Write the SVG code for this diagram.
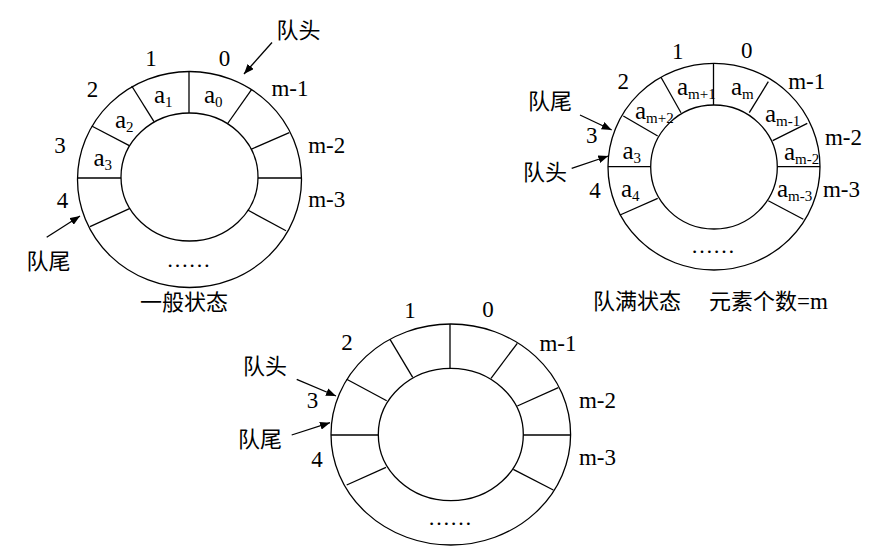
<svg xmlns="http://www.w3.org/2000/svg" width="885" height="555" viewBox="0 0 885 555">
<defs>
<marker id="ah" markerWidth="10" markerHeight="8" refX="10" refY="4" orient="auto" markerUnits="userSpaceOnUse">
<path d="M0,0 L10,4 L0,8 Z" fill="#000"/>
</marker>
<style>
.ring{fill:none;stroke:#000;stroke-width:1.3}
.sep{stroke:#000;stroke-width:1.3}
.num{font-family:"Liberation Serif",serif;font-size:23px;fill:#000;text-anchor:middle}
.a{font-family:"Liberation Serif",serif;font-size:25px;fill:#000}
.sub{font-size:15px}
.cjk{font-family:"Liberation Serif","Noto Sans CJK SC",sans-serif;font-size:22px;fill:#000}
.ser{font-family:"Liberation Serif",serif;font-size:23px}
.dots{font-family:"Liberation Serif",serif;font-size:22px;fill:#000;text-anchor:middle}
.arr{stroke:#000;stroke-width:1.3;fill:none;marker-end:url(#ah)}
</style>
</defs>
<rect width="885" height="555" fill="#fff"/>

<g id="ring-general">
<ellipse class="ring" cx="189.5" cy="179.5" rx="112" ry="108"/>
<ellipse class="ring" cx="189.5" cy="177" rx="68.5" ry="64"/>
<line class="sep" x1="189" y1="71.5" x2="189" y2="113"/>
<line class="sep" x1="131.7" y1="86" x2="154" y2="121.7"/>
<line class="sep" x1="91.7" y1="126" x2="129.3" y2="145.7"/>
<line class="sep" x1="77.5" y1="178" x2="121" y2="178"/>
<line class="sep" x1="90" y1="226.7" x2="130" y2="208.3"/>
<line class="sep" x1="251.7" y1="89.3" x2="227.3" y2="124"/>
<line class="sep" x1="289.3" y1="132.7" x2="251" y2="149.3"/>
<line class="sep" x1="258" y1="178" x2="301.5" y2="178"/>
<line class="sep" x1="286" y1="230.7" x2="247.7" y2="210"/>
<text class="num" x="151" y="66">1</text>
<text class="num" x="224.5" y="66">0</text>
<text class="num" x="92.5" y="96.5">2</text>
<text class="num" x="290" y="96">m-1</text>
<text class="num" x="60" y="153">3</text>
<text class="num" x="326.7" y="153">m-2</text>
<text class="num" x="62.5" y="208">4</text>
<text class="num" x="326.7" y="206.5">m-3</text>
<text class="a" x="154" y="103">a<tspan class="sub" dy="4">1</tspan></text>
<text class="a" x="204" y="103">a<tspan class="sub" dy="4">0</tspan></text>
<text class="a" x="115" y="128">a<tspan class="sub" dy="4">2</tspan></text>
<text class="a" x="93.5" y="165.5">a<tspan class="sub" dy="4">3</tspan></text>
<text class="dots" x="188.5" y="267">……</text>
<text class="cjk" x="276.5" y="37.5">队头</text>
<text class="cjk" x="26.5" y="269">队尾</text>
<text class="cjk" x="184" y="310" text-anchor="middle">一般状态</text>
</g>

<g id="ring-full">
<ellipse class="ring" cx="714" cy="166.7" rx="106" ry="103.3"/>
<ellipse class="ring" cx="714" cy="167" rx="63.3" ry="62"/>
<line class="sep" x1="713.5" y1="63.5" x2="713.5" y2="105"/>
<line class="sep" x1="661" y1="77.3" x2="681" y2="112.7"/>
<line class="sep" x1="623.3" y1="116" x2="657.7" y2="136"/>
<line class="sep" x1="608" y1="166.7" x2="650.7" y2="166.7"/>
<line class="sep" x1="620" y1="215" x2="657.7" y2="198.3"/>
<line class="sep" x1="768.3" y1="81.7" x2="749.3" y2="112.7"/>
<line class="sep" x1="807.3" y1="123.3" x2="772.7" y2="140.7"/>
<line class="sep" x1="777.3" y1="166.7" x2="820" y2="166.7"/>
<line class="sep" x1="803.3" y1="219.3" x2="768.3" y2="200.7"/>
<text class="num" x="677.7" y="59">1</text>
<text class="num" x="746.7" y="58">0</text>
<text class="num" x="623.3" y="89">2</text>
<text class="num" x="806.7" y="89">m-1</text>
<text class="num" x="591.7" y="143">3</text>
<text class="num" x="843.5" y="145">m-2</text>
<text class="num" x="595" y="198">4</text>
<text class="num" x="841.5" y="197">m-3</text>
<text class="a" x="677" y="95">a<tspan class="sub" dy="4">m+1</tspan></text>
<text class="a" x="731" y="95">a<tspan class="sub" dy="4">m</tspan></text>
<text class="a" x="765" y="122">a<tspan class="sub" dy="4">m-1</tspan></text>
<text class="a" x="635" y="118.5">a<tspan class="sub" dy="4">m+2</tspan></text>
<text class="a" x="784" y="160">a<tspan class="sub" dy="4">m-2</tspan></text>
<text class="a" x="777" y="197">a<tspan class="sub" dy="4">m-3</tspan></text>
<text class="a" x="622.5" y="158.5">a<tspan class="sub" dy="4">3</tspan></text>
<text class="a" x="621" y="197">a<tspan class="sub" dy="4">4</tspan></text>
<text class="dots" x="713" y="253">……</text>
<text class="cjk" x="528" y="108.5">队尾</text>
<text class="cjk" x="523" y="180">队头</text>
<text class="cjk" y="308.5"><tspan x="593">队满状态</tspan><tspan x="709">元素个数</tspan><tspan class="ser">=m</tspan></text>
</g>

<g id="ring-empty">
<ellipse class="ring" cx="450.8" cy="434.5" rx="119.8" ry="110.5"/>
<ellipse class="ring" cx="450.8" cy="434.5" rx="72.5" ry="66.2"/>
<line class="sep" x1="450" y1="324" x2="450" y2="368.3"/>
<line class="sep" x1="390" y1="339.3" x2="412.7" y2="377.3"/>
<line class="sep" x1="346.7" y1="379.3" x2="386.7" y2="400.7"/>
<line class="sep" x1="331" y1="435" x2="378.3" y2="435"/>
<line class="sep" x1="346.7" y1="485" x2="386" y2="467.3"/>
<line class="sep" x1="517.3" y1="343.3" x2="491" y2="378.3"/>
<line class="sep" x1="558.3" y1="387.7" x2="517.3" y2="406"/>
<line class="sep" x1="523.3" y1="435" x2="570.7" y2="435"/>
<line class="sep" x1="553.3" y1="490" x2="513.3" y2="469.3"/>
<text class="num" x="410" y="318">1</text>
<text class="num" x="488" y="317">0</text>
<text class="num" x="347" y="350">2</text>
<text class="num" x="558" y="350.5">m-1</text>
<text class="num" x="312.5" y="408">3</text>
<text class="num" x="597.5" y="408">m-2</text>
<text class="num" x="317" y="466.5">4</text>
<text class="num" x="597.5" y="465">m-3</text>
<text class="dots" x="450" y="525">……</text>
<text class="cjk" x="243" y="373.5">队头</text>
<text class="cjk" x="238" y="447">队尾</text>
</g>

<g id="connectors">
<line class="arr" x1="272" y1="42.5" x2="244" y2="74"/>
<line class="arr" x1="46.7" y1="237.3" x2="80" y2="216"/>
<line class="arr" x1="580" y1="115" x2="611.7" y2="130"/>
<line class="arr" x1="571.7" y1="168.3" x2="608.3" y2="156"/>
<line class="arr" x1="296.7" y1="379.3" x2="336" y2="396"/>
<line class="arr" x1="291.7" y1="435" x2="330" y2="422.7"/>
</g>
</svg>
